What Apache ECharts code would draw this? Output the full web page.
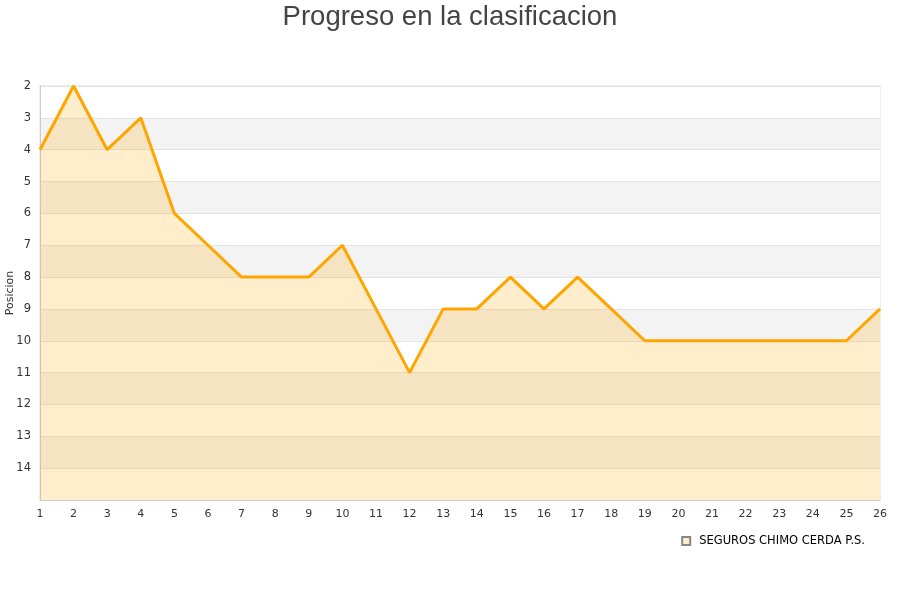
<!DOCTYPE html>
<html>
<head>
<meta charset="utf-8">
<script src="https://cdn.jsdelivr.net/npm/echarts@6/dist/echarts.min.js"></script>
<style>
  html, body { margin: 0; padding: 0; background: #fff; }
  #chart { width: 900px; height: 600px; }
</style>
</head>
<body>
<div id="chart"></div>
<script>
// jornadas 1..26
const jornadas = ['1', '2', '3', '4', '5', '6', '7', '8', '9', '10', '11', '12', '13',
  '14', '15', '16', '17', '18', '19', '20', '21', '22', '23', '24', '25', '26'];
// posicion de cada jornada
const posiciones = [4, 2, 4, 3, 6, 7, 8, 8, 8, 7, 9, 11, 9, 9, 8, 9, 8, 9, 10, 10, 10, 10, 10, 10, 10, 9];
const equipo = 'SEGUROS CHIMO CERDA P.S.';

const chart = echarts.init(document.getElementById('chart'));

const option = {
  backgroundColor: '#ffffff',
  animation: false,
  title: {
    text: 'Progreso en la clasificacion',
    left: 'center',
    top: -2,
    textStyle: {
      color: '#444',
      fontSize: 27.5,
      fontWeight: 'normal',
      fontFamily: 'Liberation Sans, Arial, sans-serif'
    }
  },
  legend: {
    right: 30,
    top: 530,
    itemWidth: 8,
    itemHeight: 8,
    icon: 'rect',
    textStyle: {color: '#000', fontSize: 11.5, fontFamily: 'DejaVu Sans', padding: [0, 0, 0, 4]},
    data: [equipo]
  },
  grid: {
    left: 40,
    right: 20,
    top: 86,
    bottom: 100,
    outerBoundsMode: 'none',
    containLabel: false,
    show: true,
    borderColor: '#dddddd',
    borderWidth: 1
  },
  xAxis: {
    type: 'category',
    boundaryGap: false,
    data: jornadas,
    axisLine: {lineStyle: {color: '#cccccc'}},
    axisTick: {show: false},
    axisLabel: {color: '#333', fontSize: 11, margin: 9, fontFamily: 'DejaVu Sans'}
  },
  yAxis: {
    type: 'value',
    inverse: true,
    min: 2,
    max: 15,
    interval: 1,
    name: 'Posicion',
    nameLocation: 'middle',
    nameGap: 24,
    nameMoveOverlap: false,
    nameTextStyle: {color: '#333', fontSize: 11, fontFamily: 'DejaVu Sans'},
    axisLine: {show: true, lineStyle: {color: '#cccccc'}},
    axisTick: {show: false},
    axisLabel: {
      color: '#333',
      fontSize: 11.5,
      margin: 9,
      fontFamily: 'DejaVu Sans',
      formatter: v => (v === 15 ? '' : v)
    },
    splitLine: {show: true, lineStyle: {color: '#e3e3e3'}},
    splitArea: {show: true, areaStyle: {color: ['#ffffff', '#f3f3f3']}}
  },
  series: [{
    name: equipo,
    type: 'line',
    data: posiciones,
    showSymbol: false,
    symbol: 'none',
    lineStyle: {color: '#FFA500', width: 3},
    itemStyle: {color: '#ffedcc', borderColor: '#888', borderWidth: 1},
    areaStyle: {color: '#FFA500', opacity: 0.2, origin: 'end'}
  }]
};

chart.setOption(option);
</script>
</body>
</html>
